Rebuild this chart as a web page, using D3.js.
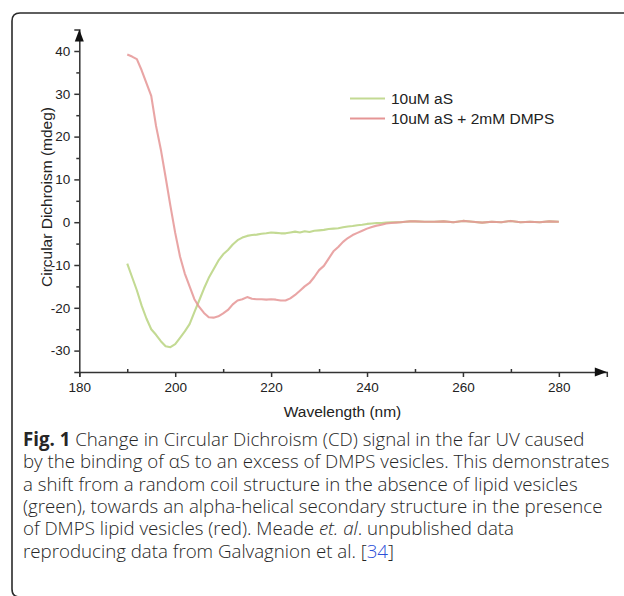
<!DOCTYPE html>
<html>
<head>
<meta charset="utf-8">
<script src="https://cdnjs.cloudflare.com/ajax/libs/d3/7.8.5/d3.min.js"></script>
<style>
  body { margin: 0; background: #fff; }
  svg { display: block; }
</style>
</head>
<body>
<div id="main"></div>
<script>
//wavelength samples (nm)
const wavelengths = [190,191,192,193,194,195,196,197,198,199,200,201,202,203,204,205,206,207,208,209,
  210,211,212,213,214,215,216,217,218,219,220,221,222,223,224,225,226,227,228,229,
  230,231,232,233,234,235,236,237,238,239,240,241,242,243,244,245,246,247,248,249,250,
  252,254,256,258,260,262,264,266,268,270,272,274,276,278,280];

//10uM aS (mdeg)
const aS = [-9.7,-12.8,-15.9,-19.5,-22.5,-25.0,-26.3,-27.8,-29.0,-29.2,-28.5,-27.0,-25.5,-23.8,-21.0,-18.3,-15.5,-13.0,-11.0,-9.0,
  -7.5,-6.5,-5.2,-4.2,-3.6,-3.2,-3.0,-2.9,-2.7,-2.6,-2.4,-2.5,-2.6,-2.6,-2.4,-2.2,-2.4,-2.1,-2.3,-2.0,
  -1.9,-1.8,-1.6,-1.5,-1.4,-1.2,-1.0,-0.9,-0.7,-0.6,-0.4,-0.3,-0.2,-0.2,-0.1,0.0,0.0,0.0,0.1,0.2,0.2,
  0.1,0.1,0.2,0.0,0.3,0.1,-0.1,0.1,0.0,0.3,0.0,0.1,0.0,0.2,0.1];

//10uM aS + 2mM DMPS (mdeg)
const aSDmps = [39.2,38.7,38.1,35.5,32.5,29.5,22.5,17.0,10.5,3.8,-2.5,-8.0,-12.0,-15.0,-18.0,-19.8,-21.2,-22.2,-22.3,-22.0,
  -21.3,-20.5,-19.2,-18.3,-18.0,-17.5,-17.9,-18.0,-18.0,-18.1,-18.0,-18.1,-18.3,-18.3,-17.8,-17.0,-16.0,-15.0,-14.2,-12.8,
  -11.2,-10.2,-8.5,-6.8,-5.8,-4.6,-3.7,-3.0,-2.5,-2.0,-1.5,-1.1,-0.8,-0.6,-0.3,-0.2,-0.1,0.0,0.1,0.2,0.2,
  0.1,0.1,0.2,0.0,0.3,0.1,-0.1,0.1,0.0,0.3,0.0,0.1,0.0,0.2,0.1];

const seriesNames = ['10uM aS', '10uM aS + 2mM DMPS'];
const seriesColors = ['#c3da93', '#e59595'];

const xTicks = [180, 200, 220, 240, 260, 280];
const xMinorTicks = [190, 210, 230, 250, 270];
const yTicks = [-30, -20, -10, 0, 10, 20, 30, 40];
const yMinorTicks = [-25, -15, -5, 5, 15, 25, 35];

const captionLines = [
  [['Fig. 1', 'b'], [' Change in Circular Dichroism (CD) signal in the far UV caused', '']],
  [['by the binding of \u03b1S to an excess of DMPS vesicles. This demonstrates', '']],
  [['a shift from a random coil structure in the absence of lipid vesicles', '']],
  [['(green), towards an alpha-helical secondary structure in the presence', '']],
  [['of DMPS lipid vesicles (red). Meade ', ''], ['et. al', 'i'], ['. unpublished data', '']],
  [['reproducing data from Galvagnion et al. [', ''], ['34', 'link'], [']', '']]
];

//size
const width = 624;
const height = 596;

const svg = d3.select('#main')
  .append('svg')
  .attr('width', width)
  .attr('height', height);

//frame with rounded left corners
svg.append('path')
  .attr('d', 'M626,13 H20 Q12,13 12,21 V589 Q12,597 20,597 H626')
  .attr('fill', 'none')
  .attr('stroke', '#2b2b2b')
  .attr('stroke-width', 1.6);

//scales
const xScale = d3.scaleLinear().domain([180, 290]).range([79.3, 606.8]);
const yScale = d3.scaleLinear().domain([-35, 45]).range([372, 29.6]);

const axisColor = '#333';
const plainNum = function(d) { return String(d); };

//x axis
svg.append('g')
  .attr('class', 'axis')
  .attr('transform', 'translate(0,' + yScale(-35) + ')')
  .call(d3.axisBottom(xScale).tickValues(xTicks).tickSize(5).tickPadding(5).tickFormat(plainNum));
svg.append('g')
  .attr('class', 'axis')
  .attr('transform', 'translate(0,' + yScale(-35) + ')')
  .call(d3.axisTop(xScale).tickValues(xMinorTicks).tickSize(3).tickFormat(''))
  .select('.domain').remove();

//y axis
svg.append('g')
  .attr('class', 'axis')
  .attr('transform', 'translate(' + xScale(180) + ',0)')
  .call(d3.axisLeft(yScale).tickValues(yTicks).tickSize(5).tickPadding(4).tickFormat(plainNum));
svg.append('g')
  .attr('class', 'axis')
  .attr('transform', 'translate(' + xScale(180) + ',0)')
  .call(d3.axisLeft(yScale).tickValues(yMinorTicks).tickSize(3).tickFormat(''))
  .select('.domain').remove();

svg.selectAll('.axis .domain, .axis .tick line')
  .attr('stroke', axisColor)
  .attr('stroke-width', 1.5);
svg.selectAll('.axis .tick text')
  .attr('font-family', 'Liberation Sans, Arial, sans-serif')
  .attr('font-size', 13.5)
  .attr('fill', '#222');

//arrow heads
const xEnd = xScale(290), yEnd = yScale(-35);
svg.append('path')
  .attr('d', 'M' + xEnd + ',' + yEnd + ' l-12,-4.5 v9 z')
  .attr('fill', '#111');
const yTop = yScale(45), x0 = xScale(180);
svg.append('path')
  .attr('d', 'M' + x0 + ',' + yTop + ' l-4.5,12 h9 z')
  .attr('fill', '#111');

//axis titles
svg.append('text')
  .attr('x', (xScale(180) + xScale(290)) / 2 - 0.5)
  .attr('y', 417)
  .attr('text-anchor', 'middle')
  .attr('font-family', 'Liberation Sans, Arial, sans-serif')
  .attr('font-size', 15.5)
  .attr('fill', '#222')
  .text('Wavelength (nm)');

svg.append('text')
  .attr('transform', 'translate(52,197) rotate(-90)')
  .attr('text-anchor', 'middle')
  .attr('font-family', 'Liberation Sans, Arial, sans-serif')
  .attr('font-size', 15.5)
  .attr('fill', '#222')
  .text('Circular Dichroism (mdeg)');

//lines
const line = d3.line()
  .x(function(d) { return xScale(d[0]); })
  .y(function(d) { return yScale(d[1]); });

const seriesData = [aS, aSDmps].map(function(vals) {
  return wavelengths.map(function(w, i) { return [w, vals[i]]; });
});

svg.selectAll('.series')
  .data(seriesData)
  .enter().append('path')
  .attr('class', 'series')
  .attr('d', line)
  .attr('fill', 'none')
  .attr('stroke', function(d, i) { return seriesColors[i]; })
  .attr('stroke-opacity', function(d, i) { return i === 1 ? 0.85 : 1; })
  .attr('stroke-width', 2.1)
  .attr('stroke-linejoin', 'round');

//legend
const legend = svg.append('g').attr('transform', 'translate(350,98.5)');
seriesNames.forEach(function(name, i) {
  legend.append('line')
    .attr('x1', 0).attr('x2', 35)
    .attr('y1', i * 20).attr('y2', i * 20)
    .attr('stroke', seriesColors[i])
    .attr('stroke-width', 2);
  legend.append('text')
    .attr('x', 41)
    .attr('y', i * 20 + 5.5)
    .attr('font-family', 'Liberation Sans, Arial, sans-serif')
    .attr('font-size', 15.5)
    .attr('fill', '#222')
    .text(name);
});

//caption
const caption = svg.append('text')
  .attr('font-family', '"Open Sans", "Noto Sans", sans-serif')
  .attr('font-size', 18.7)
  .attr('font-weight', 300)
  .attr('fill', '#262626');

captionLines.forEach(function(parts, li) {
  parts.forEach(function(p, pi) {
    const t = caption.append('tspan').text(p[0]);
    if (pi === 0) t.attr('x', 23).attr('y', 446 + li * 22.3);
    if (p[1] === 'b') t.attr('font-weight', 'bold');
    if (p[1] === 'i') t.attr('font-style', 'italic');
    if (p[1] === 'link') t.attr('fill', '#2c4fd8');
  });
});
</script>
</body>
</html>
